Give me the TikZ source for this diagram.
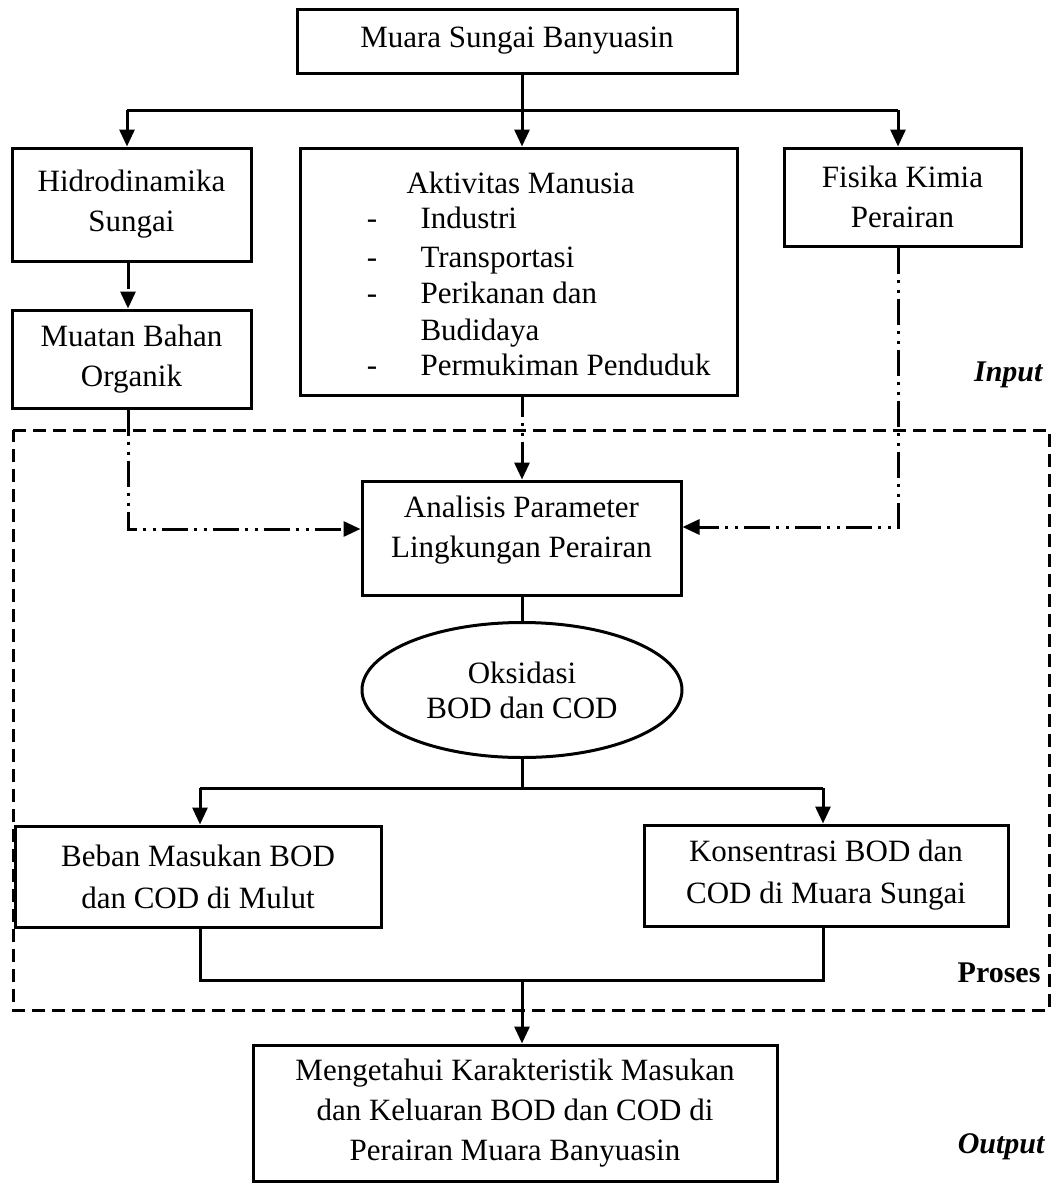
\documentclass[tikz,border=0pt]{standalone}
\usepackage{fontspec}
\setmainfont{Liberation Serif}
\usetikzlibrary{arrows.meta,shapes.geometric}
\begin{document}
\begin{tikzpicture}[x=1pt,y=-1pt,
  every node/.style={font=\fontsize{31pt}{40pt}\selectfont},
  box/.style={draw,line width=3pt,rectangle,inner sep=0pt,align=center},
  oval/.style={draw,line width=3pt,ellipse,inner sep=0pt,align=center,minimum width=320pt,minimum height=135pt},
  ln/.style={line width=3pt},
  arr/.style={line width=3pt,-{Triangle[length=17pt,width=15pt]}},
  dd/.style={line width=3pt,dash pattern=on 26pt off 6pt on 3pt off 7pt on 3pt off 6pt},
  frame/.style={line width=3pt,dash pattern=on 13pt off 7pt},
  lbl/.style={font=\fontsize{30pt}{36pt}\selectfont\bfseries}]
\useasboundingbox (0,0) rectangle (1057,1183);
% boxes
\node[box,minimum width=440pt,minimum height=64pt] (top) at (517,41) {Muara Sungai Banyuasin};
\node[box,minimum width=239pt,minimum height=113pt] (hidro) at (131.5,204.5) {Hidrodinamika\\Sungai};
\node[box,minimum width=437pt,minimum height=247pt] (akt) at (518.5,271.5) {};
\node[box,minimum width=237pt,minimum height=98pt] (fis) at (902.5,197) {Fisika Kimia\\Perairan};
\node[box,minimum width=239pt,minimum height=98pt] (muatan) at (131.5,359) {Muatan Bahan\\Organik};
\node[box,minimum width=319pt,minimum height=114pt] (anal) at (521.5,538) {};
\node (analT) at (521.5,530) [align=center] {Analisis Parameter\\Lingkungan Perairan};
\node[oval] (ell) at (522,690) {Oksidasi\\[-5pt]BOD dan COD};
\node[box,minimum width=366pt,minimum height=101pt] (beban) at (198,876.5) {Beban Masukan BOD\\[2pt]dan COD di Mulut};
\node[box,minimum width=364pt,minimum height=101pt] (kons) at (826,875.5) {Konsentrasi BOD dan\\[2pt]COD di Muara Sungai};
\node[box,minimum width=524pt,minimum height=136pt] (out) at (515,1113) {Mengetahui Karakteristik Masukan\\dan Keluaran BOD dan COD di\\Perairan Muara Banyuasin};
% Aktivitas text
\node[anchor=base west] (aktH) at (403,193) {Aktivitas Manusia};
\node[anchor=base] (d1) at (372,228) {-};
\node[anchor=base west] (i1) at (417,228) {Industri};
\node[anchor=base] (d2) at (372,267) {-};
\node[anchor=base west] (i2) at (417,267) {Transportasi};
\node[anchor=base] (d3) at (372,303) {-};
\node[anchor=base west] (i3) at (417,303) {Perikanan dan};
\node[anchor=base west] (i3b) at (417,340) {Budidaya};
\node[anchor=base] (d4) at (372,375) {-};
\node[anchor=base west] (i4) at (417,375) {Permukiman Penduduk};
% labels
\node[lbl,anchor=east] (inp) at (1046,375) {\itshape Input};
\node[lbl,anchor=east] (pro) at (1044,973) {Proses};
\node[lbl,anchor=east] (outl) at (1048,1147) {\itshape Output};
% frame
\draw[frame] (13,430) -- (1049,430) -- (1049,1010) -- (13,1010) -- cycle;
% top connectors
\coordinate (s1) at (522,110);
\coordinate (b1) at (127,110);
\coordinate (b3) at (898,110);
\draw[ln] (s1 |- top.south) -- (s1);
\draw[ln] (b1) -- (b3);
\draw[arr] (b1) -- (b1 |- hidro.north);
\draw[arr] (s1) -- (s1 |- akt.north);
\draw[arr] (b3) -- (b3 |- fis.north);
% dash-dot connectors
\coordinate (m1) at (128,529);
\coordinate (f1) at (898,527);
\coordinate (a1) at (522,500);
\draw[dd,-{Triangle[length=17pt,width=15pt]}] (m1 |- hidro.south) -- (m1 |- muatan.north);
\draw[dd,-{Triangle[length=17pt,width=15pt]}] (m1 |- muatan.south) -- (m1) -- (anal.west |- m1);
\draw[dd,-{Triangle[length=17pt,width=15pt]}] (f1 |- fis.south) -- (f1) -- (anal.east |- f1);
\draw[line width=3pt,dash pattern=on 20pt off 6pt on 3pt off 7pt on 3pt off 6pt on 60pt,-{Triangle[length=17pt,width=15pt]}] (a1 |- akt.south) -- (a1 |- anal.north);
% process connectors
\coordinate (e0) at (522,600);
\draw[ln] (e0 |- anal.south) -- (e0 |- ell.north);
\coordinate (e1) at (522,788);
\coordinate (l1) at (200,788);
\coordinate (r1) at (823,788);
\draw[ln] (e1 |- ell.south) -- (e1);
\draw[ln] (l1) -- (r1);
\draw[arr] (l1) -- (l1 |- beban.north);
\draw[arr] (r1) -- (r1 |- kons.north);
\coordinate (l2) at (200,980);
\coordinate (r2) at (823,980);
\coordinate (c2) at (522,980);
\draw[ln] (l2 |- beban.south) -- (l2) -- (r2) -- (r2 |- kons.south);
\draw[arr] (c2) -- (c2 |- out.north);
\end{tikzpicture}
\end{document}
